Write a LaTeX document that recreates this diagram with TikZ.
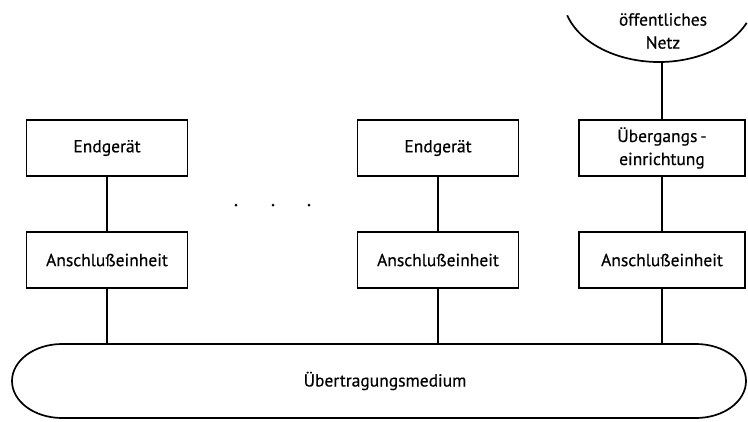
\documentclass[tikz,border=0pt]{standalone}
\usepackage{fontspec}
\setmainfont{PT Sans}[BoldFont={PT Sans},BoldFeatures={FakeBold=0.5}]
\begin{document}
\begin{tikzpicture}[x=1pt,y=-1pt,
  line width=1.7pt,
  label font/.style={font=\fontsize{17.5}{23}\selectfont\bfseries},
  unitbox/.style={draw,rectangle,minimum width=161pt,minimum height=56pt,inner sep=0pt,label font,align=center}]
\useasboundingbox (0,0) rectangle (748,421);
% bus
\draw (62,344) -- (696,344) arc[start angle=90,end angle=-90,x radius=50,y radius=-37] -- (62,418) arc[start angle=270,end angle=90,x radius=50,y radius=-37] -- cycle;
\node[label font] (medium) at (385,381) {Übertragungsmedium};
\coordinate (b1) at (107,344);
\coordinate (b2) at (438,344);
\coordinate (b3) at (662,344);
% public network (lower part of an ellipse)
\draw (567.2,15.3) arc[start angle=163,end angle=24,x radius=96,y radius=66];
\node[label font,align=center] (netz) at (663,31) {öffentliches\\Netz};
\coordinate (n) at (662,62);
% stations
\node[unitbox] (e1) at (107,148) {Endgerät};
\node[unitbox] (a1) at (107,260) {Anschlußeinheit};
\node[unitbox] (e2) at (438,148) {Endgerät};
\node[unitbox] (a2) at (438,260) {Anschlußeinheit};
\node[unitbox,minimum width=166pt] (u3) at (662,148) {Übergangs\kern3pt-\\einrichtung};
\node[unitbox,minimum width=166pt] (a3) at (662,260) {Anschlußeinheit};
% connections
\draw (e1) -- (a1);
\draw (a1) -- (b1);
\draw (e2) -- (a2);
\draw (a2) -- (b2);
\draw (n) -- (u3);
\draw (u3) -- (a3);
\draw (a3) -- (b3);
% ellipsis dots
\fill (236,205) circle (1.5pt) (273,205) circle (1.5pt) (309,205) circle (1.5pt);
\end{tikzpicture}
\end{document}
